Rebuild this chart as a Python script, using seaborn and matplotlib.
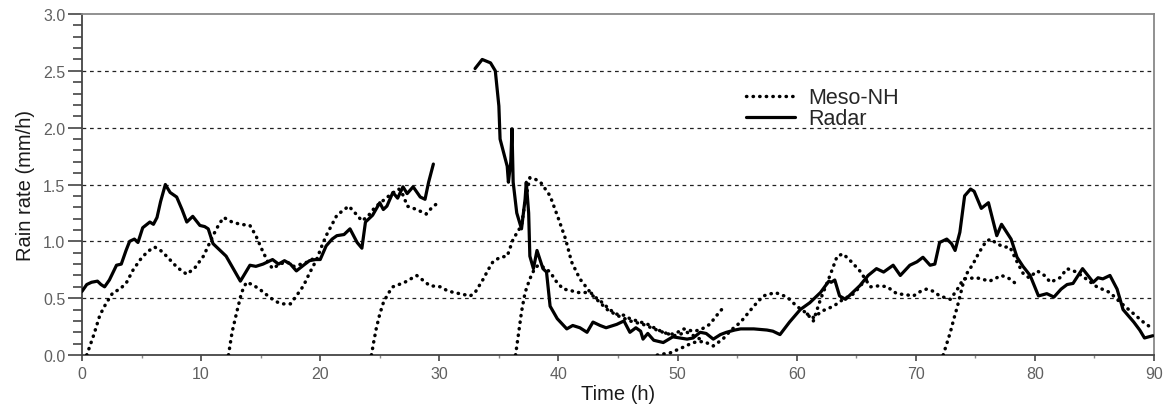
import numpy as np
import pandas as pd
import seaborn as sns
import matplotlib.pyplot as plt
from matplotlib.lines import Line2D
from matplotlib.ticker import MultipleLocator

# radar observations (two pieces, gap around 30-33 h)
radar1_t = [0.0, 0.4, 0.8, 1.3, 1.6, 1.9, 2.3, 2.9, 3.3, 3.7, 4.0, 4.4, 4.7, 5.1, 5.7, 6.0, 6.3, 6.6,
            7.0, 7.4, 7.95, 8.4, 8.8, 9.3, 9.9, 10.3, 10.6, 11.0, 11.5, 12.1, 12.7, 13.3, 13.7, 14.1,
            14.6, 15.2, 15.6, 16.0, 16.5, 17.0, 17.5, 18.0, 18.6, 19.1, 19.6, 20.0, 20.5, 21.0, 21.4,
            22.0, 22.5, 23.1, 23.5, 23.8, 24.4, 25.0, 25.3, 25.6, 26.1, 26.5, 26.95, 27.3, 27.8, 28.4,
            28.8, 29.1, 29.5]
radar1_v = [0.56, 0.62, 0.64, 0.65, 0.62, 0.60, 0.66, 0.79, 0.80, 0.92, 1.00, 1.02, 0.99, 1.12, 1.17,
            1.15, 1.21, 1.35, 1.50, 1.43, 1.39, 1.28, 1.17, 1.22, 1.14, 1.13, 1.11, 0.98, 0.93, 0.87,
            0.76, 0.65, 0.72, 0.79, 0.78, 0.80, 0.82, 0.84, 0.80, 0.83, 0.80, 0.74, 0.79, 0.83, 0.84,
            0.84, 0.96, 1.02, 1.05, 1.06, 1.11, 0.99, 0.94, 1.17, 1.23, 1.34, 1.28, 1.31, 1.43, 1.38,
            1.48, 1.42, 1.48, 1.39, 1.37, 1.52, 1.68]

radar2_t = [33.0, 33.6, 34.3, 34.7, 35.0, 35.1, 35.4, 35.7, 35.8, 36.0, 36.1, 36.2, 36.5, 36.9, 37.2,
            37.3, 37.5, 37.6, 37.9, 38.2, 38.7, 39.0, 39.3, 39.9, 40.7, 41.2, 41.8, 42.4, 42.9, 43.5,
            44.0, 44.9, 45.5, 46.0, 46.5, 46.9, 47.1, 47.5, 48.0, 48.8, 49.6, 50.2, 50.8, 51.3, 51.9,
            52.4, 53.0, 53.6, 54.1, 54.8, 55.3, 56.4, 57.5, 58.0, 58.6, 59.4, 60.3, 61.1, 62.0, 62.7,
            62.9, 63.2, 63.6, 64.1, 64.6, 65.3, 66.0, 66.7, 67.3, 68.1, 68.7, 69.5, 70.1, 70.6, 71.2,
            71.6, 72.0, 72.6, 73.0, 73.3, 73.7, 74.1, 74.6, 74.9, 75.5, 76.1, 76.8, 77.2, 78.0, 78.5,
            79.0, 79.6, 80.3, 81.0, 81.6, 82.2, 82.7, 83.2, 84.0, 84.9, 85.3, 85.7, 86.3, 86.9, 87.4,
            88.3, 88.8, 89.2, 89.9]
radar2_v = [2.52, 2.60, 2.57, 2.50, 2.19, 1.90, 1.78, 1.66, 1.52, 1.70, 1.99, 1.52, 1.25, 1.11, 1.37,
            1.52, 1.25, 0.87, 0.76, 0.92, 0.76, 0.73, 0.43, 0.32, 0.23, 0.26, 0.24, 0.20, 0.29, 0.26,
            0.24, 0.27, 0.30, 0.20, 0.24, 0.21, 0.14, 0.19, 0.13, 0.11, 0.16, 0.15, 0.14, 0.15, 0.20,
            0.19, 0.14, 0.18, 0.20, 0.22, 0.23, 0.23, 0.22, 0.21, 0.18, 0.29, 0.40, 0.46, 0.55, 0.65,
            0.64, 0.66, 0.52, 0.49, 0.54, 0.61, 0.70, 0.76, 0.73, 0.79, 0.70, 0.79, 0.82, 0.86, 0.79,
            0.80, 0.99, 1.02, 0.98, 0.92, 1.08, 1.40, 1.46, 1.44, 1.29, 1.34, 1.05, 1.15, 1.02, 0.86,
            0.78, 0.70, 0.52, 0.54, 0.51, 0.58, 0.62, 0.63, 0.76, 0.64, 0.68, 0.67, 0.70, 0.58, 0.40,
            0.29, 0.22, 0.15, 0.17]

# Meso-NH forecasts (each run starts from zero)
meso_a_t = [0.4, 1.0, 1.5, 2.0, 2.6, 3.2, 3.75, 4.3, 4.9, 5.5, 6.1, 6.6, 7.1, 8.0, 8.8, 9.5, 10.2, 10.6,
            11.0, 11.5, 11.9, 12.6, 13.3, 14.1, 14.6, 15.1, 15.6, 16.0, 16.6, 17.2, 17.8, 18.4, 19.0, 19.6]
meso_a_v = [0.0, 0.18, 0.35, 0.45, 0.55, 0.58, 0.64, 0.75, 0.84, 0.91, 0.95, 0.92, 0.87, 0.77, 0.71,
            0.77, 0.87, 0.96, 1.05, 1.15, 1.21, 1.17, 1.15, 1.14, 1.05, 0.93, 0.82, 0.76, 0.80, 0.82,
            0.78, 0.80, 0.82, 0.86]

meso_b_t = [12.3, 12.6, 13.0, 13.4, 13.8, 14.3, 14.9, 15.5, 16.0, 16.5, 16.9, 17.5, 18.0, 18.6, 19.1,
            19.7, 20.1, 20.5, 21.0, 21.4, 22.4, 23.1, 23.5, 24.0, 24.6, 25.3, 26.0, 26.6, 27.0, 27.3,
            28.1, 28.9, 29.4, 29.9]
meso_b_v = [0.0, 0.20, 0.38, 0.55, 0.64, 0.62, 0.58, 0.53, 0.49, 0.46, 0.45, 0.45, 0.52, 0.61, 0.72,
            0.84, 0.95, 1.05, 1.15, 1.23, 1.31, 1.23, 1.18, 1.22, 1.30, 1.36, 1.42, 1.46, 1.40, 1.31,
            1.28, 1.24, 1.30, 1.34]

meso_c_t = [24.3, 24.5, 24.7, 25.0, 25.3, 25.7, 26.1, 27.1, 28.1, 28.6, 29.2, 30.1, 30.6, 31.2, 31.7,
            32.6, 33.0, 33.7, 34.1, 34.5, 35.1, 35.7, 36.2, 36.9, 37.2, 37.6, 38.0, 38.5, 39.3, 40.0,
            40.6, 41.1, 41.8, 42.9, 44.1, 44.9, 46.0, 47.1, 48.5, 49.7, 50.8, 51.9]
meso_c_v = [0.0, 0.12, 0.23, 0.36, 0.46, 0.54, 0.60, 0.64, 0.70, 0.66, 0.61, 0.60, 0.57, 0.55, 0.54,
            0.52, 0.55, 0.67, 0.75, 0.82, 0.86, 0.87, 1.02, 1.14, 1.35, 1.56, 1.55, 1.52, 1.40, 1.20,
            1.02, 0.82, 0.67, 0.52, 0.40, 0.35, 0.30, 0.27, 0.21, 0.17, 0.20, 0.14]

meso_d_t = [36.4, 36.6, 36.9, 37.2, 37.6, 38.0, 38.3, 38.8, 39.3, 39.8, 40.4, 41.0, 41.5, 42.1, 42.7,
            43.2, 43.7, 44.3, 44.9, 45.5, 46.0, 46.9, 47.5, 48.2, 48.8, 49.4, 50.0, 50.5, 51.3, 51.9,
            52.7, 53.3, 53.7]
meso_d_v = [0.0, 0.15, 0.38, 0.55, 0.67, 0.76, 0.79, 0.77, 0.73, 0.65, 0.58, 0.57, 0.55, 0.55, 0.55,
            0.50, 0.46, 0.40, 0.36, 0.35, 0.32, 0.29, 0.27, 0.23, 0.20, 0.18, 0.20, 0.23, 0.21, 0.22,
            0.27, 0.35, 0.40]

meso_e_t = [48.3, 49.4, 50.5, 51.3, 52.2, 53.0, 53.8, 54.5, 55.3, 56.4, 57.2, 58.2, 59.2, 60.0, 60.8,
            61.4, 62.0, 62.8, 63.4, 63.9, 64.6, 65.3, 66.2, 67.0, 67.6, 68.4, 69.2, 69.8, 70.4, 70.9,
            71.5, 72.0, 72.9, 73.5, 74.0, 75.1, 76.2, 77.2, 77.9, 78.6]
meso_e_v = [0.0, 0.02, 0.07, 0.11, 0.12, 0.08, 0.14, 0.22, 0.29, 0.43, 0.52, 0.55, 0.51, 0.43, 0.37,
            0.30, 0.49, 0.70, 0.87, 0.89, 0.82, 0.74, 0.60, 0.61, 0.60, 0.54, 0.53, 0.52, 0.56, 0.58,
            0.56, 0.52, 0.49, 0.58, 0.67, 0.68, 0.65, 0.70, 0.67, 0.61]

meso_f_t = [60.9, 61.4, 62.2, 63.1, 63.9, 64.8, 65.6, 66.2]
meso_f_v = [0.36, 0.33, 0.39, 0.43, 0.49, 0.54, 0.64, 0.70]

meso_g_t = [72.3, 72.6, 72.9, 73.2, 73.5, 74.0, 74.3, 74.8, 75.3, 75.9, 76.3, 76.8, 77.4, 77.9, 78.5,
            79.0, 79.5, 80.2, 80.8, 81.3, 82.1, 82.7, 83.5, 84.3, 85.2, 86.3, 87.2, 88.1, 89.1, 89.9]
meso_g_v = [0.0, 0.10, 0.20, 0.32, 0.43, 0.64, 0.72, 0.80, 0.90, 1.00, 1.02, 0.98, 0.95, 0.95, 0.82,
            0.72, 0.68, 0.74, 0.70, 0.64, 0.68, 0.76, 0.73, 0.67, 0.60, 0.55, 0.46, 0.38, 0.29, 0.23]

radar_runs = [(radar1_t, radar1_v), (radar2_t, radar2_v)]
meso_runs = [(meso_a_t, meso_a_v), (meso_b_t, meso_b_v), (meso_c_t, meso_c_v), (meso_d_t, meso_d_v),
             (meso_e_t, meso_e_v), (meso_f_t, meso_f_v), (meso_g_t, meso_g_v)]

sns.set_style('ticks')
plt.rcParams['font.family'] = ['Liberation Sans', 'DejaVu Sans']

fig = plt.figure(figsize=(11.71, 4.14), dpi=100)
ax = fig.add_axes([0.070, 0.140, 0.9155, 0.8238])

dot_style = dict(color='black', lw=2.5, linestyle=(0, (0.1, 1.8)), dash_capstyle='round')
solid_style = dict(color='black', lw=2.3, solid_joinstyle='round')

# grid lines first so the curves sit on top
for yv in [0.5, 1.0, 1.5, 2.0, 2.5]:
    ax.axhline(yv, color='#222222', lw=0.9, linestyle=(0, (3, 3)), zorder=1)

for t, v in meso_runs:
    df = pd.DataFrame({'t': t, 'v': v})
    sns.lineplot(data=df, x='t', y='v', ax=ax, sort=False, estimator=None, zorder=3, **dot_style)

for t, v in radar_runs:
    df = pd.DataFrame({'t': t, 'v': v})
    sns.lineplot(data=df, x='t', y='v', ax=ax, sort=False, estimator=None, zorder=4, **solid_style)

ax.set_xlim(0, 90)
ax.set_ylim(0, 3.0)
ax.xaxis.set_major_locator(MultipleLocator(10))
ax.xaxis.set_minor_locator(MultipleLocator(5))
ax.yaxis.set_major_locator(MultipleLocator(0.5))
ax.yaxis.set_minor_locator(MultipleLocator(0.1))
ax.yaxis.set_major_formatter(plt.FormatStrFormatter('%.1f'))

ax.tick_params(axis='y', which='major', length=10, width=1.2, color='#444444',
               labelsize=11.5, labelcolor='#606060', pad=2)
ax.tick_params(axis='y', which='minor', length=6.5, width=1.2, color='#444444')
ax.tick_params(axis='x', which='major', length=4, width=1.2, color='#444444',
               labelsize=11.5, labelcolor='#606060', pad=4)
ax.tick_params(axis='x', which='minor', length=2, width=1, color='#888888')

for side in ['left', 'bottom']:
    ax.spines[side].set_color('#444444')
    ax.spines[side].set_linewidth(1.3)
for side in ['top', 'right']:
    ax.spines[side].set_color('#888888')
    ax.spines[side].set_linewidth(1.3)

ax.set_xlabel('Time (h)', fontsize=14.5, color='#1a1a1a', labelpad=2)
ax.set_ylabel('Rain rate (mm/h)', fontsize=14.5, color='#1a1a1a', labelpad=6)

handles = [Line2D([], [], **dot_style), Line2D([], [], **solid_style)]
ax.legend(handles, ['Meso-NH', 'Radar'], loc='upper left', bbox_to_anchor=(0.619, 0.785),
          frameon=False, fontsize=15.5, handlelength=2.3, handletextpad=0.6,
          labelspacing=0.0, borderaxespad=0, borderpad=0)

fig.savefig('out.png', dpi=100)
